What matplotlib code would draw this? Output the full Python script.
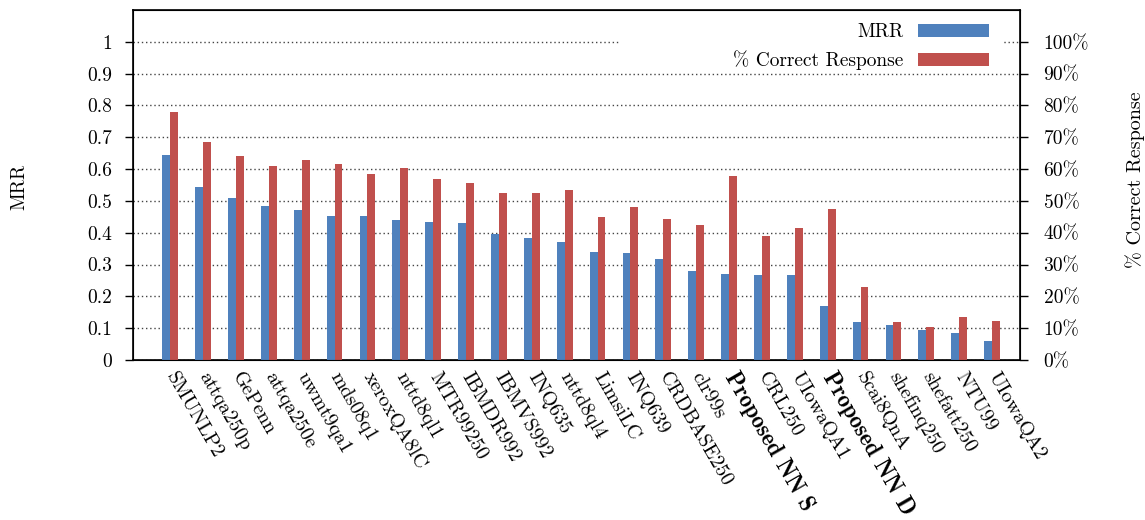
import matplotlib
matplotlib.use('Agg')
import matplotlib.pyplot as plt
from matplotlib.patches import Rectangle
import numpy as np

# TREC-8 style comparison: MRR and percentage of correct responses per run
runs = ['SMUNLP2', 'attqa250p', 'GePenn', 'attqa250e', 'uwmt9qa1', 'mds08q1',
        'xeroxQA8lC', 'nttd8ql1', 'MTR99250', 'IBMDR992', 'IBMVS992', 'INQ635',
        'nttd8ql4', 'LimsiLC', 'INQ639', 'CRDBASE250', 'clr99s', 'Proposed NN S',
        'CRL250', 'UIowaQA1', 'Proposed NN D', 'Scai8QnA', 'shefinq250',
        'shefatt250', 'NTU99', 'UIowaQA2']
mrr = [0.645, 0.544, 0.509, 0.484, 0.472, 0.453, 0.453, 0.440, 0.434, 0.431,
       0.396, 0.384, 0.371, 0.340, 0.336, 0.318, 0.280, 0.270, 0.267, 0.267,
       0.170, 0.120, 0.110, 0.094, 0.085, 0.060]
correct = [0.780, 0.686, 0.641, 0.610, 0.629, 0.616, 0.585, 0.604, 0.569, 0.557,
           0.525, 0.525, 0.535, 0.450, 0.481, 0.443, 0.425, 0.579, 0.390, 0.415,
           0.475, 0.230, 0.120, 0.104, 0.135, 0.123]
bold_runs = ['Proposed NN S', 'Proposed NN D']

plt.rcParams['font.family'] = 'cmr10'
plt.rcParams['axes.unicode_minus'] = False
plt.rcParams['font.size'] = 14

fig = plt.figure(figsize=(11.45, 5.2), dpi=100)
ax = fig.add_axes([0.1162, 0.3077, 0.7746, 0.6731])

x = np.arange(len(runs))
w = 0.24
ax.bar(x - w / 2, mrr, width=w, color='#4F81BD', label='MRR', zorder=3)
ax.bar(x + w / 2, correct, width=w, color='#C0504D', label='% Correct Response', zorder=3)

ax.set_xlim(-1.13, len(runs) - 1 + 0.85)
ax.set_ylim(0, 1.1)
ax.set_yticks(np.arange(0, 1.01, 0.1))
ax.set_yticklabels(['0'] + ['%.1f' % v for v in np.arange(0.1, 0.95, 0.1)] + ['1'])
ax.yaxis.grid(True, linestyle=(0, (1, 2)), color='#444444', linewidth=1.0)
ax.tick_params(axis='y', direction='out', length=6, width=1, pad=9, labelsize=14)

# white block behind the key hides the grid there
ax.add_patch(Rectangle((0.549, 0.83), 0.432, 0.17, transform=ax.transAxes,
                       facecolor='white', edgecolor='none', zorder=2))

ax.set_xticks(x)
ax.set_xticklabels(runs, rotation=-60, ha='left', va='center', rotation_mode='anchor')
ax.tick_params(axis='x', length=0, pad=10, labelsize=14.5)
for lbl in ax.get_xticklabels():
    if lbl.get_text() in bold_runs:
        lbl.set_fontfamily('cmb10')
        lbl.set_fontsize(16.5)

for s in ax.spines.values():
    s.set_linewidth(1.2)

ax2 = ax.twinx()
ax2.set_ylim(0, 1.1)
ax2.set_yticks(np.arange(0, 1.01, 0.1))
ax2.set_yticklabels(['%d%%' % round(v * 100) for v in np.arange(0, 1.01, 0.1)])
ax2.tick_params(axis='y', direction='out', length=6, width=1, pad=11, labelsize=14)

ax.set_ylabel('MRR', fontsize=14)
ax.yaxis.set_label_coords(-0.118, 0.494)
ax2.set_ylabel('% Correct Response', fontsize=14.5)
ax2.yaxis.set_label_coords(1.119, 0.514)

leg = ax2.legend(*ax.get_legend_handles_labels(), loc='upper right',
                 bbox_to_anchor=(0.972, 0.978), borderaxespad=0, markerfirst=False,
                 handlelength=3.66, handleheight=0.67, handletextpad=0.77,
                 labelspacing=0.45, frameon=False, fontsize=14, borderpad=0.3)
for t in leg.get_texts():
    t.set_ha('right')

fig.savefig('out.png', dpi=100)
